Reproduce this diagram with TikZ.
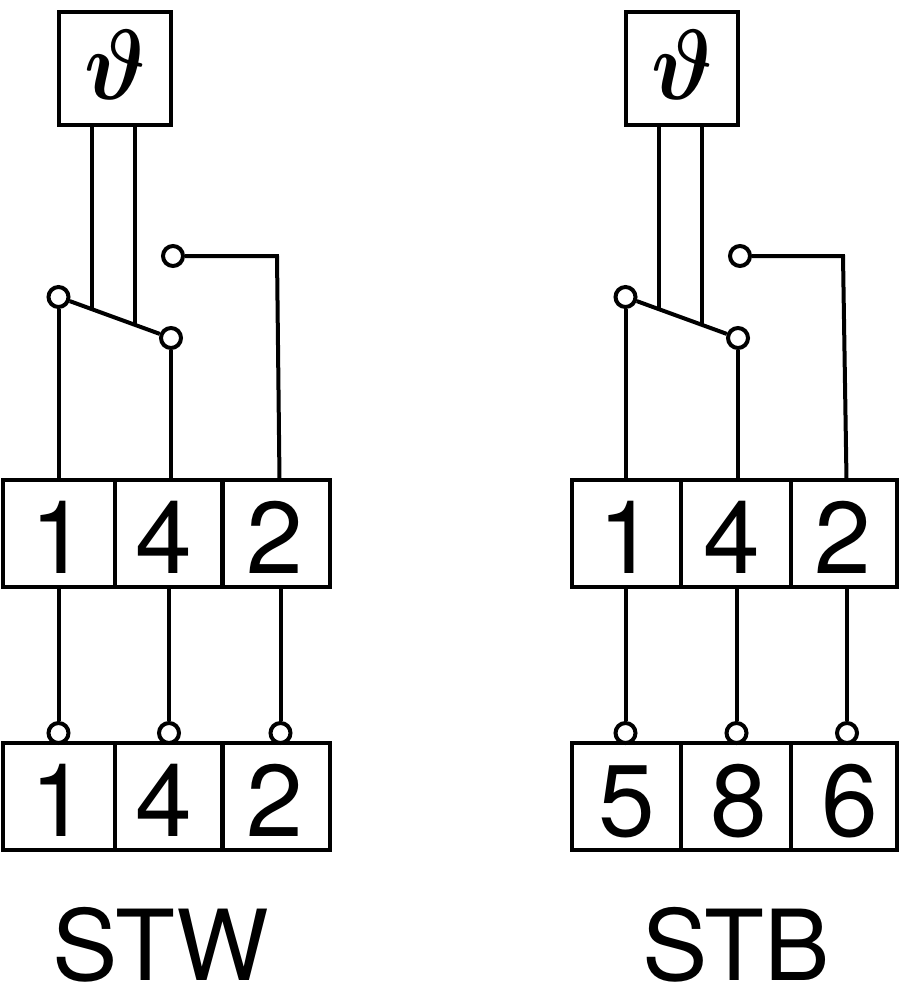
\documentclass[tikz,border=0pt]{standalone}
\usepackage{amsmath,amssymb}
\usepackage{fontspec}
\setmainfont{TeX Gyre Heros}
\usepackage{tikz}
\newcommand{\tempsign}{\raisebox{8pt}{\scalebox{8.9}[10]{$\boldsymbol{\vartheta}$}}}
\tikzset{
  cell/.style={draw, line width=4pt, minimum height=107pt, inner sep=0pt, text height=79pt, text depth=0pt, font=\fontsize{102}{102}\selectfont},
  sensor/.style={draw, line width=4pt, minimum width=112pt, minimum height=113pt, inner sep=0pt},
  wire/.style={line width=4pt},
  pin/.style={circle, draw, line width=4pt, fill=white, minimum size=20pt, inner sep=0pt},
  caption/.style={anchor=base, font=\fontsize{98}{98}\selectfont, inner sep=0pt}
}
\begin{document}
\begin{tikzpicture}[x=1pt,y=-1pt]
        \useasboundingbox (0,0) rectangle (913,1000);
        % left unit
        \node [sensor] (sensA) at (115,68.5) {\tempsign};
        \node [cell, minimum width=112pt] (a1) at (59,533.5) {1};
        \node [cell, minimum width=108pt] (a4) at (169,533.5) {\kern-11pt 4};
        \node [cell, minimum width=108pt] (a2) at (276,533.5) {\kern-2pt 2};
        \node [cell, minimum width=112pt] (b1) at (59,796.5) {1};
        \node [cell, minimum width=108pt] (b4) at (169,796.5) {\kern-11pt 4};
        \node [cell, minimum width=108pt] (b2) at (276,796.5) {\kern-2pt 2};
        \node [caption] (capA) at (161,980) {STW};
        %
        \node [pin] (armA) at (58.5,297) {};
        \node [pin] (restA) at (171,338) {};
        \node [pin] (openA) at (173,256) {};
        \node [pin] (pa1) at (58.5,733) {};
        \node [pin] (pa4) at (169,733) {};
        \node [pin] (pa2) at (280.5,733) {};
        %
        \coordinate (kneeA) at (277,256);
        \coordinate (dropA) at (279.5,480);
        \coordinate (tapA) at (92,309);
        \coordinate (tapAb) at (135,325);
        \draw [wire] (armA) -- (restA);
        \draw [wire] (armA) -- (armA |- a1.north);
        \draw [wire] (restA) -- (restA |- a4.north);
        \draw [wire] (openA) -- (kneeA) -- (dropA);
        \draw [wire] (tapA) -- (tapA |- sensA.south);
        \draw [wire] (tapAb) -- (tapAb |- sensA.south);
        \draw [wire] (pa1) -- (pa1 |- a1.south);
        \draw [wire] (pa4) -- (pa4 |- a4.south);
        \draw [wire] (pa2) -- (pa2 |- a2.south);
        % right unit
        \node [sensor] (sensB) at (682,68.5) {\tempsign};
        \node [cell, minimum width=109pt] (c1) at (626.5,533.5) {1};
        \node [cell, minimum width=110pt] (c4) at (736,533.5) {\kern-9pt 4};
        \node [cell, minimum width=106pt] (c2) at (844,533.5) {\kern-2pt 2};
        \node [cell, minimum width=109pt] (d5) at (626.5,796.5) {5};
        \node [cell, minimum width=110pt] (d8) at (736,796.5) {\kern5pt 8};
        \node [cell, minimum width=106pt] (d6) at (844,796.5) {\kern11pt 6};
        \node [caption] (capB) at (736,980) {STB};
        %
        \node [pin] (armB) at (625.5,297) {};
        \node [pin] (restB) at (738,338) {};
        \node [pin] (openB) at (740,256) {};
        \node [pin] (pb5) at (625.5,733) {};
        \node [pin] (pb8) at (736.5,733) {};
        \node [pin] (pb6) at (847,733) {};
        %
        \coordinate (kneeB) at (843,256);
        \coordinate (dropB) at (846.5,480);
        \coordinate (tapB) at (659,309);
        \coordinate (tapBb) at (702,325);
        \draw [wire] (armB) -- (restB);
        \draw [wire] (armB) -- (armB |- c1.north);
        \draw [wire] (restB) -- (restB |- c4.north);
        \draw [wire] (openB) -- (kneeB) -- (dropB);
        \draw [wire] (tapB) -- (tapB |- sensB.south);
        \draw [wire] (tapBb) -- (tapBb |- sensB.south);
        \draw [wire] (pb5) -- (pb5 |- c1.south);
        \draw [wire] (pb8) -- (pb8 |- c4.south);
        \draw [wire] (pb6) -- (pb6 |- c2.south);
      \end{tikzpicture}
\end{document}
